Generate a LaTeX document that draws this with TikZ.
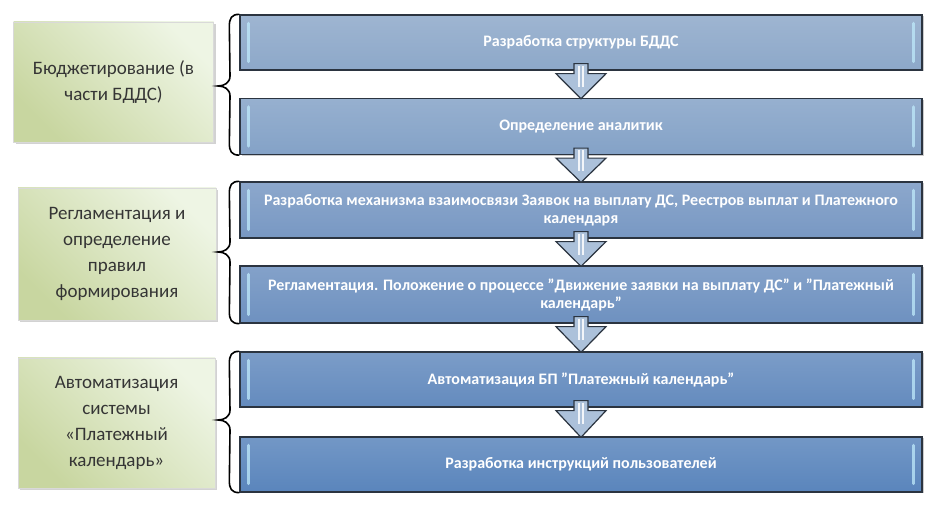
\documentclass[tikz,border=0pt]{standalone}
\usepackage{fontspec}
\setmainfont{Carlito}
\usetikzlibrary{calc,shadows}
\newcommand\dq{\symbol{34}}
\definecolor{bx1}{HTML}{8DA8C9}
\definecolor{bx2}{HTML}{84A2C7}
\definecolor{bx3}{HTML}{7898C3}
\definecolor{bx4}{HTML}{6E91C0}
\definecolor{bx5}{HTML}{648BBE}
\definecolor{bx6}{HTML}{5A85BC}
\definecolor{bedge}{HTML}{2B3440}
\definecolor{gtxt}{HTML}{353535}
\tikzset{
  bluebox/.style={draw=bedge, line width=1.3pt, minimum width=682pt, inner sep=0pt,
    top color=#1!85!white, bottom color=#1, text=white,
    font=\fontsize{16}{18}\selectfont\bfseries, align=center,
    drop shadow={shadow xshift=1.5pt, shadow yshift=-1.5pt, opacity=.4}},
  greenbox/.style={draw=black!15, line width=0.4pt, minimum width=200pt, inner sep=0pt,
    shading=axis, left color=green!3!white!92!olive, right color={rgb,255:red,200;green,214;blue,160},
    shading angle=-45, text=gtxt,
    font=\fontsize{19}{26}\selectfont, align=center,
    drop shadow={shadow xshift=2pt, shadow yshift=-2.5pt, opacity=.35}},
  arrowst/.style={draw=bedge, line width=1.2pt, fill={rgb,255:red,172;green,193;blue,218}, line join=miter},
  highlite/.style={white!75!cyan, line width=3.2pt, line cap=round, opacity=.75},
  bracest/.style={draw=black, line width=1.6pt}
}
\newcommand\flowarrow[2]{%
  \filldraw[arrowst] ($(#1.south)+(-7,7)$) -- ($(#1.south)+(-7,-3)$) -- ($(#1.south)+(-25,-3)$)
   -- ($(#2.north)+(0,-1)$) -- ($(#1.south)+(25,-3)$) -- ($(#1.south)+(7,-3)$) -- ($(#1.south)+(7,7)$) -- cycle;
  \draw[white, line width=1.3pt, opacity=.85] ($(#1.south)+(-2,5)$) -- ($(#1.south)+(-2,-16)$);
  \draw[white, line width=1.3pt, opacity=.85] ($(#1.south)+(2,5)$) -- ($(#1.south)+(2,-16)$);
}
\newcommand\hilite[1]{%
  \draw[highlite] ($(#1.north west)+(9,-9)$) -- ($(#1.south west)+(9,9)$);
  \draw[highlite] ($(#1.north east)+(-9,-9)$) -- ($(#1.south east)+(-9,9)$);
}
\newcommand\mybrace[3]{% top node, bottom node, tip y
  \draw[bracest] (#1.north west) .. controls +(-8,0) and +(0,8) .. ($(#1.north west)+(-10,-12)$)
    -- (230,{#3+10}) .. controls +(0,-7) and +(6,0) .. (218,#3)
    .. controls +(6,0) and +(0,7) .. (230,{#3-10})
    -- ($(#2.south west)+(-10,12)$) .. controls +(0,-8) and +(-8,0) .. (#2.south west);
}
\begin{document}
\begin{tikzpicture}[x=1pt,y=1pt]
\useasboundingbox[fill=white] (0,0) rectangle (938,510);
% green boxes
\node[greenbox, minimum height=120pt] (g1) at (113.5,428) {Бюджетирование (в\\части БДДС)};
\node[greenbox, minimum height=132pt, minimum width=198pt] (g2) at (117,256) {Регламентация и\\определение\\правил\\формирования};
\node[greenbox, minimum height=130pt, minimum width=197pt] (g3) at (116.5,87) {Автоматизация\\системы\\«Платежный\\календарь»};
% blue boxes
\node[bluebox=bx1, minimum height=55pt] (b1) at (581,467.5) {Разработка структуры БДДС};
\node[bluebox=bx2, minimum height=56pt] (b2) at (581,383.5) {Определение аналитик};
\node[bluebox=bx3, minimum height=56pt] (b3) at (581,300) {Разработка механизма взаимосвязи Заявок на выплату ДС, Реестров выплат и Платежного\\календаря};
\node[bluebox=bx4, minimum height=57pt] (b4) at (581,215.5) {Регламентация. Положение о процессе \dq Движение заявки на выплату ДС\dq{} и \dq Платежный\\календарь\dq};
\node[bluebox=bx5, minimum height=55pt] (b5) at (581,130.5) {Автоматизация БП \dq Платежный календарь\dq};
\node[bluebox=bx6, minimum height=55pt] (b6) at (581,45.5) {Разработка инструкций пользователей};
\foreach \b in {b1,b2,b3,b4,b5,b6} {\hilite{\b}}
\flowarrow{b1}{b2}
\flowarrow{b2}{b3}
\flowarrow{b3}{b4}
\flowarrow{b4}{b5}
\flowarrow{b5}{b6}
\mybrace{b1}{b2}{424}
\mybrace{b3}{b4}{258}
\mybrace{b5}{b6}{90}
\end{tikzpicture}
\end{document}
